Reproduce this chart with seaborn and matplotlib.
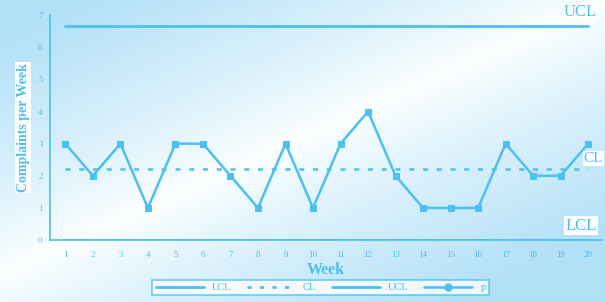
import numpy as np
import pandas as pd
import matplotlib
matplotlib.use("Agg")
import matplotlib.pyplot as plt
import seaborn as sns
from matplotlib.lines import Line2D

weeks = list(range(1, 21))
p_values = [3, 2, 3, 1, 3, 3, 2, 1, 3, 1, 3, 4, 2, 1, 1, 1, 3, 2, 2, 3]
ucl_value = 6.65
cl_value = 2.2
lcl_value = 0.0
y_ticks = [0, 1, 2, 3, 4, 5, 6, 7]

df = pd.DataFrame({"Week": weeks, "p": p_values,
                   "UCL": [ucl_value] * len(weeks),
                   "CL": [cl_value] * len(weeks),
                   "LCL": [lcl_value] * len(weeks)})

sns.set_style("white")
plt.rcParams['font.family'] = ['Liberation Serif', 'DejaVu Serif']

blue = "#4cc0ee"
fig = plt.figure(figsize=(6.05, 3.02), dpi=100)

# background gradient
bg = fig.add_axes([0, 0, 1, 1], zorder=-10)
H, W = 302, 605
yy, xx = np.mgrid[0:H, 0:W]
s = xx / W + 1.1 * yy / H
d = np.clip(np.abs(s - 1.0) / 0.85, 0, 1) ** 0.85
c_blue = np.array([0.70, 0.88, 0.97])
c_white = np.array([0.99, 1.0, 1.0])
img = c_white[None, None, :] * (1 - d[..., None]) + c_blue[None, None, :] * d[..., None]
bg.imshow(img, aspect="auto", extent=[0, 1, 0, 1])
bg.axis("off")

ax = fig.add_axes([0.083, 0.205, 0.912, 0.745])
ax.patch.set_alpha(0)

sns.lineplot(data=df, x="Week", y="LCL", ax=ax, color=blue, lw=2)
sns.lineplot(data=df, x="Week", y="CL", ax=ax, color=blue, lw=1.8, linestyle=(0, (2, 3.5)))
sns.lineplot(data=df, x="Week", y="UCL", ax=ax, color=blue, lw=2)
sns.lineplot(data=df, x="Week", y="p", ax=ax, color=blue, lw=1.8, marker="s", markersize=5,
             markeredgecolor=blue)

ax.set_xlim(0.45, 20.5)
ax.set_ylim(0, 7)
ax.set_xticks(weeks)
ax.set_yticks(y_ticks)
ax.tick_params(axis="both", colors=blue, labelsize=6.5, length=2, width=0.8, direction="out")
ax.tick_params(axis="x", pad=6)
for sp in ["top", "right"]:
    ax.spines[sp].set_visible(False)
for sp in ["left", "bottom"]:
    ax.spines[sp].set_color(blue)
    ax.spines[sp].set_linewidth(1.2)

ax.set_xlabel("Week", color=blue, fontsize=11.5, fontweight="bold", labelpad=2)
ax.set_ylabel("Complaints per Week", color=blue, fontsize=10, fontweight="bold", labelpad=6,
              bbox=dict(facecolor="white", edgecolor="none", pad=1))

ax.text(20.3, ucl_value + 0.2, "UCL", color=blue, fontsize=12, ha="right", va="bottom",
        bbox=dict(facecolor="white", edgecolor="none", pad=1), clip_on=False)
fig.text(0.997, 0.475, "CL", color=blue, fontsize=11, ha="right", va="center",
         bbox=dict(facecolor="white", edgecolor="none", pad=0.5))
ax.text(20.3, lcl_value + 0.2, "LCL", color=blue, fontsize=12, ha="right", va="bottom",
        bbox=dict(facecolor="white", edgecolor="none", pad=1), clip_on=False)

handles = [Line2D([], [], color=blue, lw=2),
           Line2D([], [], color=blue, lw=2, linestyle=(0, (1.5, 3))),
           Line2D([], [], color=blue, lw=2),
           Line2D([], [], color=blue, lw=1.8, marker="o", markersize=5)]
leg = fig.legend(handles, ["LCL", "CL", "UCL", "p"], loc="lower center",
                 bbox_to_anchor=(0.53, 0.005), ncol=4, frameon=True, fontsize=7.5,
                 handlelength=4.6, columnspacing=1.5, borderpad=0.3, fancybox=False)
leg.get_frame().set_edgecolor(blue)
leg.get_frame().set_linewidth(1.2)
for t in leg.get_texts():
    t.set_color(blue)

fig.savefig("out.png", dpi=100)
